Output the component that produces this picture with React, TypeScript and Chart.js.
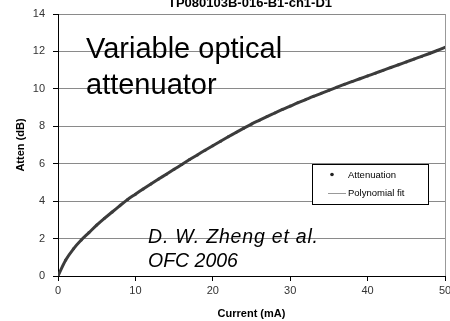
import React, { useEffect, useRef } from "react";
import { Chart, registerables } from "chart.js";

Chart.register(...registerables);

const titleText = "TP080103B-016-B1-ch1-D1";
const xTitle = "Current (mA)";
const yTitle = "Atten (dB)";
const annotationLines = ["Variable optical", "attenuator"];
const citationLines = ["D. W. Zheng et al.", "OFC 2006"];
const legendLabels = ["Attenuation", "Polynomial fit"];

const currentMA = [
  0, 1, 2, 3, 4, 5, 6, 7, 8, 9, 10, 11, 12, 13, 14, 15, 16, 17, 18, 19, 20,
  21, 22, 23, 24, 25, 26, 27, 28, 29, 30, 31, 32, 33, 34, 35, 36, 37, 38, 39,
  40, 41, 42, 43, 44, 45, 46, 47, 48, 49, 50,
];
const attenDB = [
  0, 0.85, 1.45, 1.92, 2.32, 2.72, 3.08, 3.42, 3.76, 4.09, 4.37, 4.65, 4.92,
  5.18, 5.44, 5.7, 5.96, 6.22, 6.47, 6.72, 6.96, 7.2, 7.44, 7.67, 7.9, 8.12,
  8.32, 8.52, 8.71, 8.9, 9.08, 9.26, 9.43, 9.6, 9.76, 9.92, 10.08, 10.24,
  10.39, 10.54, 10.69, 10.84, 10.99, 11.14, 11.29, 11.44, 11.59, 11.74, 11.89,
  12.05, 12.22,
];
const fitCurrent = [0, 1, 2, 3, 5, 7.5, 10, 15, 20, 25, 30, 35, 40, 45, 50];
const fitDB = [0, 0.85, 1.45, 1.92, 2.72, 3.58, 4.37, 5.7, 6.96, 8.12, 9.08, 9.92, 10.69, 11.44, 12.22];

const xTicks = [0, 10, 20, 30, 40, 50];
const yTicks = [0, 2, 4, 6, 8, 10, 12, 14];

const FONT = "'Liberation Sans', Arial, sans-serif";

const overlayPlugin = {
  id: "overlay",
  afterDraw(chart: any) {
    const ctx = chart.ctx;
    ctx.save();
    // title (partly cut off at top)
    ctx.fillStyle = "#000";
    ctx.font = `bold 13px ${FONT}`;
    ctx.textAlign = "center";
    ctx.textBaseline = "alphabetic";
    ctx.fillText(titleText, 250, 7);

    // annotation
    ctx.textAlign = "left";
    ctx.font = `29px ${FONT}`;
    ctx.fillText(annotationLines[0], 86, 58);
    ctx.fillText(annotationLines[1], 86, 94);

    ctx.font = `italic 19.5px ${FONT}`;
    (ctx as any).letterSpacing = "0.8px";
    ctx.fillText(citationLines[0], 148, 243);
    (ctx as any).letterSpacing = "0px";
    ctx.fillText(citationLines[1], 148, 267);

    // legend box
    const lx = 312, ly = 164, lw = 116, lh = 40;
    ctx.fillStyle = "#fff";
    ctx.fillRect(lx, ly, lw, lh);
    ctx.strokeStyle = "#000";
    ctx.lineWidth = 1;
    ctx.strokeRect(lx + 0.5, ly + 0.5, lw, lh);
    ctx.fillStyle = "#222";
    ctx.beginPath();
    ctx.arc(332, 174.5, 1.8, 0, Math.PI * 2);
    ctx.fill();
    ctx.strokeStyle = "#999";
    ctx.beginPath();
    ctx.moveTo(328, 193.5);
    ctx.lineTo(346, 193.5);
    ctx.stroke();
    ctx.fillStyle = "#000";
    ctx.font = `9.5px ${FONT}`;
    ctx.textBaseline = "middle";
    ctx.fillText(legendLabels[0], 348, 175);
    ctx.fillText(legendLabels[1], 348, 193);
    ctx.restore();
  },
};

export default function App() {
  const ref = useRef<HTMLCanvasElement | null>(null);
  useEffect(() => {
    document.body.style.margin = "0";
    const canvas = ref.current;
    if (!canvas) return;
    const chart = new Chart(canvas, {
      type: "scatter",
      data: {
        datasets: [
          {
            label: legendLabels[0],
            data: currentMA.map((x, i) => ({ x, y: attenDB[i] })),
            showLine: true,
            borderColor: "#3c3c3c",
            backgroundColor: "#3c3c3c",
            borderWidth: 3,
            pointRadius: 1.5,
            pointBorderWidth: 0,
            tension: 0.3,
            order: 1,
          },
          {
            label: legendLabels[1],
            data: fitCurrent.map((x, i) => ({ x, y: fitDB[i] })),
            showLine: true,
            borderColor: "#999",
            borderWidth: 1,
            pointRadius: 0,
            tension: 0.4,
            order: 2,
          },
        ],
      },
      options: {
        animation: false,
        responsive: false,
        maintainAspectRatio: false,
        layout: { padding: { top: 14, right: 5, left: 0, bottom: 0 } },
        plugins: {
          legend: { display: false },
          title: { display: false },
          tooltip: { enabled: false },
        },
        scales: {
          x: {
            type: "linear",
            min: 0,
            max: 50,
            afterBuildTicks: (axis: any) => {
              axis.ticks = xTicks.map((v) => ({ value: v }));
            },
            afterFit: (axis: any) => {
              axis.height = 45;
              axis.paddingRight = 0;
              axis.paddingLeft = 0;
            },
            ticks: {
              color: "#333",
              font: { family: FONT, size: 11 },
              padding: 3,
            },
            grid: {
              color: (c: any) => (c.tick && c.tick.value === 50 ? "#999" : "rgba(0,0,0,0)"),
              tickColor: "#000",
              tickLength: 5,
              drawOnChartArea: true,
            },
            border: { color: "#000", width: 1 },
            title: {
              display: true,
              text: xTitle,
              color: "#000",
              font: { family: FONT, size: 11, weight: "bold" },
              padding: { top: 1, bottom: 0 },
            },
          },
          y: {
            type: "linear",
            min: 0,
            max: 14,
            afterBuildTicks: (axis: any) => {
              axis.ticks = yTicks.map((v) => ({ value: v }));
            },
            afterFit: (axis: any) => {
              axis.width = 58;
              axis.paddingTop = 0;
              axis.paddingBottom = 0;
            },
            ticks: {
              color: "#333",
              font: { family: FONT, size: 11 },
              padding: 8,
            },
            grid: {
              color: "#8a8a8a",
              tickColor: "#000",
              tickLength: 5,
            },
            border: { color: "#000", width: 1 },
            title: {
              display: true,
              text: yTitle,
              color: "#000",
              font: { family: FONT, size: 11, weight: "bold" },
              padding: { top: 14, bottom: 0 },
            },
          },
        },
      },
      plugins: [overlayPlugin],
    } as any);
    return () => chart.destroy();
  }, []);
  return <canvas ref={ref} width={450} height={321} style={{ display: "block" }} />;
}
